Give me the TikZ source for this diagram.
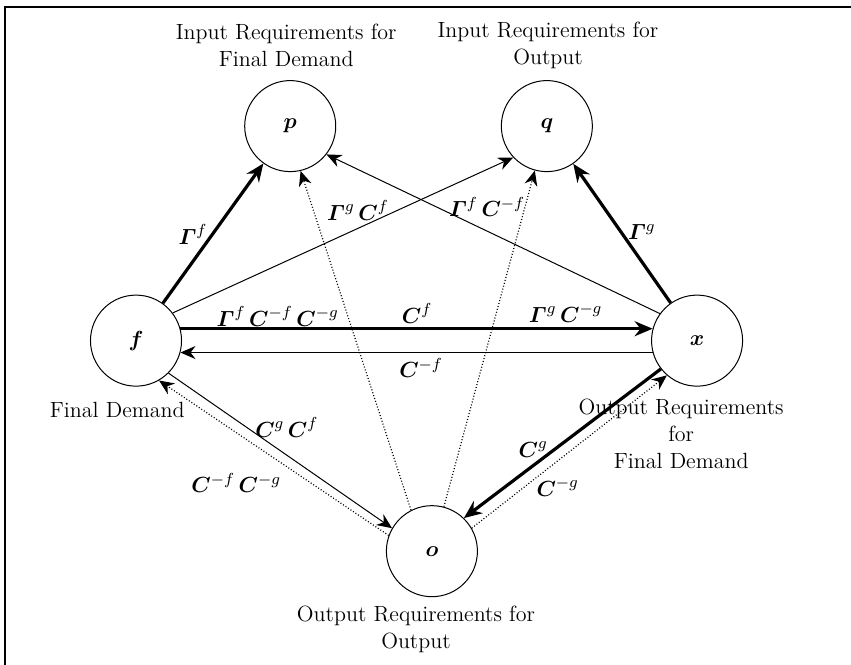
\documentclass[tikz,border=0pt]{standalone}
\usepackage{amsmath}
\usetikzlibrary{arrows.meta}
\tikzset{
    base/.style={font=\fontsize{11}{13.5}\selectfont},
    var/.style={base, circle, draw, line width=0.5pt, minimum size=1.6cm, inner sep=0pt},
    caption/.style={base, align=center},
    lbl/.style={base, inner sep=1pt},
    flow/.style={-{Stealth[length=7.5pt,width=6.5pt]}, line width=0.5pt},
    strong/.style={-{Stealth[length=9pt,width=7.5pt]}, line width=1.6pt},
    inverse/.style={flow, densely dotted, line width=0.6pt}
}
\newcommand{\bG}{\boldsymbol{\varGamma}}
\newcommand{\bC}{\boldsymbol{C}}

\begin{document}
\begin{tikzpicture}
    \useasboundingbox (0,0) rectangle (14.955,11.686);
    \draw [line width=1pt] (0.09,0) |- (14.955,11.56);

    % requirement vectors
    \node (p) [var] at (5.10,9.47) {$\boldsymbol{p}$};
    \node (q) [var] at (9.61,9.47) {$\boldsymbol{q}$};
    \node (f) [var] at (2.39,5.70) {$\boldsymbol{f}$};
    \node (x) [var] at (12.25,5.70) {$\boldsymbol{x}$};
    \node (o) [var] at (7.59,2.00) {$\boldsymbol{o}$};

    \node (capp) [caption] at (5.03,10.88) {Input Requirements for\\Final Demand};
    \node (capq) [caption] at (9.63,10.88) {Input Requirements for\\Output};
    \node (capf) [caption] at (2.06,4.48) {Final Demand};
    \node (capx) [caption] at (11.97,4.06) {Output Requirements\\for\\Final Demand};
    \node (capo) [caption] at (7.31,0.63) {Output Requirements for\\Output};

    % mappings
    \draw [strong] (f) -- (p);
    \draw [flow] (f.37) -- (q.223);
    \draw [flow] (x.144) -- (p.322);
    \draw [strong] (x) -- (q);
    \draw [strong] (f.15) -- (x.165);
    \draw [flow] (x.195) -- (f.345);
    \draw [flow] (f.-45) -- (o.150);
    \draw [inverse] (o.160) -- (f.-60);
    \draw [strong] (x.218) -- (o.46);
    \draw [inverse] (o.30) -- (x.229);
    \draw [inverse] (o.117) -- (p.283);
    \draw [inverse] (o) -- (q);

    \node (lGf) [lbl] at (3.39,7.56) {$\bG^{f}$};
    \node (lGgCf) [lbl] at (6.29,7.99) {$\bG^{g}\,\bC^{f}$};
    \node (lGfCmf) [lbl] at (8.56,8.05) {$\bG^{f}\,\bC^{-f}$};
    \node (lGg) [lbl] at (11.28,7.61) {$\bG^{g}$};
    \node (lGfCmfCmg) [lbl] at (4.88,6.13) {$\bG^{f}\,\bC^{-f}\,\bC^{-g}$};
    \node (lCf) [lbl] at (7.33,6.18) {$\bC^{f}$};
    \node (lGgCmg) [lbl] at (9.94,6.18) {$\bG^{g}\,\bC^{-g}$};
    \node (lCmf) [lbl] at (7.40,5.22) {$\bC^{-f}$};
    \node (lCgCf) [lbl] at (5.04,4.18) {$\bC^{g}\,\bC^{f}$};
    \node (lCmfCmg) [lbl] at (4.15,3.20) {$\bC^{-f}\,\bC^{-g}$};
    \node (lCg) [lbl] at (9.37,3.78) {$\bC^{g}$};
    \node (lCmg) [lbl] at (9.80,3.13) {$\bC^{-g}$};
\end{tikzpicture}
\end{document}
